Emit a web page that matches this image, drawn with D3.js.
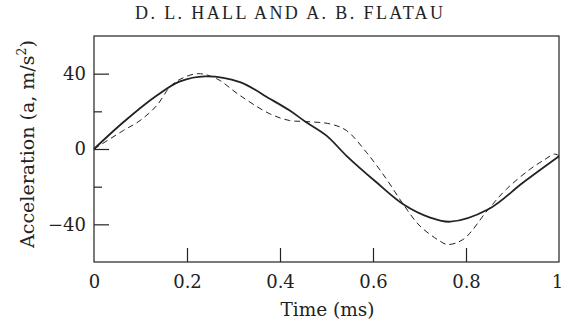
<!DOCTYPE html>
<html>
<head>
<meta charset="utf-8">
<script src="https://cdn.jsdelivr.net/npm/d3@7"></script>
<style>
  html, body { margin: 0; padding: 0; background: #fff; }
  svg { display: block; }
</style>
</head>
<body>
<svg id="chart" width="563" height="325"></svg>
<script>
const titleText = "D. L. HALL AND A. B. FLATAU";
const xLabel = "Time (ms)";
const yLabel = "Acceleration (a, m/s";
const xTicks = [0, 0.2, 0.4, 0.6, 0.8, 1];
const xTickLabels = ["0", "0.2", "0.4", "0.6", "0.8", "1"];
const yMajorTicks = [-40, 0, 40];
const yMajorLabels = ["\u221240", "0", "40"];
const yMinorTicks = [-20, 20];

const solidT = [0, 0.063, 0.135, 0.185, 0.239, 0.314, 0.378, 0.421, 0.454, 0.5, 0.543, 0.608, 0.665, 0.723, 0.766, 0.848, 0.923, 1.0];
const solidA = [0, 14.2, 28.4, 35.9, 38.6, 35.5, 26.7, 20.4, 14.6, 7.1, -3.6, -17.8, -29.3, -36.4, -38.6, -32, -17.8, -3.9];

const dashT = [0, 0.063, 0.099, 0.135, 0.163, 0.185, 0.224, 0.264, 0.314, 0.378, 0.421, 0.454, 0.508, 0.543, 0.586, 0.629, 0.665, 0.701, 0.744, 0.760, 0.794, 0.848, 0.887, 0.938, 0.97, 0.99, 1.0];
const dashA = [0, 9.8, 15.1, 23.1, 32.9, 37, 40, 37.3, 28.4, 18.7, 15.1, 14.6, 13.3, 9.8, -1.8, -16, -29.3, -40.9, -48.9, -50.7, -48, -32, -21.3, -10.7, -5.5, -2.7, -3.5];

const svg = d3.select("#chart");
const L = 94, R = 559, T = 36, B = 262;
const x = d3.scaleLinear().domain([0, 1]).range([L, R]);
const y = d3.scaleLinear().domain([-60, 60]).range([B, T]);
const ink = "#222";
const font = "'DejaVu Serif', serif";

// title
svg.append("text")
  .attr("x", 289).attr("y", 19)
  .attr("text-anchor", "middle")
  .attr("font-family", "'Liberation Serif', serif")
  .attr("font-size", 18)
  .attr("textLength", 308).attr("lengthAdjust", "spacing")
  .attr("fill", ink)
  .text(titleText);

// frame
svg.append("rect")
  .attr("x", L).attr("y", T).attr("width", R - L).attr("height", B - T)
  .attr("fill", "none").attr("stroke", ink).attr("stroke-width", 1.2);

// x ticks (inward)
const xAxis = d3.axisBottom(x).tickValues(xTicks)
  .tickFormat((d, i) => xTickLabels[i]).tickSizeInner(-14).tickSizeOuter(0).tickPadding(13);
const gx = svg.append("g").attr("transform", `translate(0,${B})`).call(xAxis);
gx.select(".domain").remove();
gx.selectAll(".tick").filter(d => d === 0 || d === 1).select("line").remove();
gx.selectAll(".tick line").attr("stroke", ink).attr("stroke-width", 1.2);
gx.selectAll(".tick text").attr("font-family", font).attr("font-size", 18).attr("fill", ink);
gx.selectAll(".tick").filter(d => d === 1).select("text").attr("dx", -2);

// y major ticks
const yAxis = d3.axisLeft(y).tickValues(yMajorTicks)
  .tickFormat((d, i) => yMajorLabels[i]).tickSizeInner(-15).tickSizeOuter(0).tickPadding(8);
const gy = svg.append("g").attr("transform", `translate(${L},0)`).call(yAxis);
gy.select(".domain").remove();
gy.selectAll(".tick line").attr("stroke", ink).attr("stroke-width", 1.2);
gy.selectAll(".tick text").attr("font-family", font).attr("font-size", 18).attr("fill", ink);

// y minor ticks
const yMinor = d3.axisLeft(y).tickValues(yMinorTicks).tickFormat("").tickSizeInner(-8).tickSizeOuter(0);
const gym = svg.append("g").attr("transform", `translate(${L},0)`).call(yMinor);
gym.select(".domain").remove();
gym.selectAll(".tick line").attr("stroke", ink).attr("stroke-width", 1.2);

// curves
const line = d3.line().x(d => x(d[0])).y(d => y(d[1])).curve(d3.curveCatmullRom.alpha(0.5));
svg.append("path")
  .datum(dashT.map((t, i) => [t, dashA[i]]))
  .attr("d", line).attr("fill", "none").attr("stroke", ink)
  .attr("stroke-width", 1).attr("stroke-dasharray", "6,4");
svg.append("path")
  .datum(solidT.map((t, i) => [t, solidA[i]]))
  .attr("d", line).attr("fill", "none").attr("stroke", ink)
  .attr("stroke-width", 1.8);

// axis labels
svg.append("text")
  .attr("x", (L + R) / 2 + 1).attr("y", 316)
  .attr("text-anchor", "middle")
  .attr("font-family", font).attr("font-size", 18.5).attr("fill", ink)
  .text(xLabel);

const yl = svg.append("text")
  .attr("transform", `translate(34,144) rotate(-90)`)
  .attr("text-anchor", "middle")
  .attr("font-family", font).attr("font-size", 19).attr("fill", ink);
yl.append("tspan").text(yLabel);
yl.append("tspan").attr("font-size", 12.5).attr("dy", -8).text("2");
yl.append("tspan").attr("dy", 8).text(")");
</script>
</body>
</html>
